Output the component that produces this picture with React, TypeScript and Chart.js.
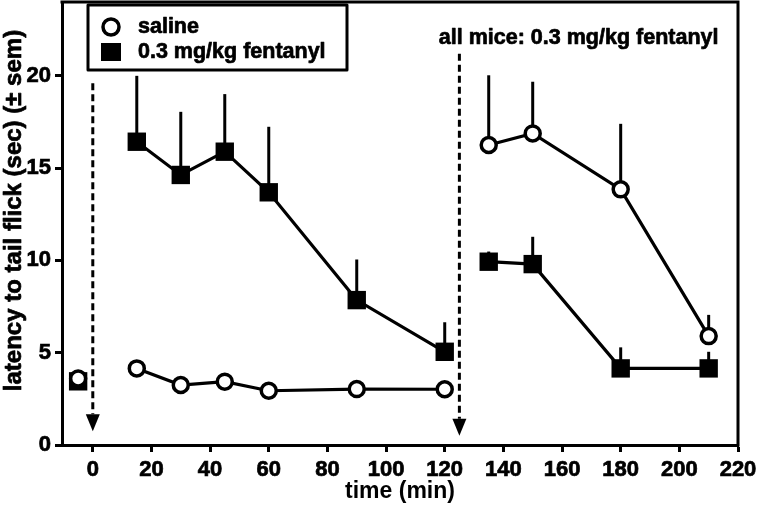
import { useEffect, useRef } from 'react';
import { Chart, registerables } from 'chart.js';

Chart.register(...registerables);

// ---- data ----
const times = [-5, 15, 30, 45, 60, 90, 120, 135, 150, 180, 210];
const segmentId = [0, 1, 1, 1, 1, 1, 1, 2, 2, 2, 2];
const salineMean = [3.6, 4.15, 3.25, 3.43, 2.94, 3.03, 3.02, 16.25, 16.88, 13.85, 5.9];
const salineSem = [0.3, 0.3, 0.2, 0.25, 0.2, 0.2, 0.2, 3.78, 2.8, 3.55, 1.15];
const fentanylMean = [3.45, 16.43, 14.63, 15.89, 13.69, 7.85, 5.05, 9.93, 9.8, 4.15, 4.15];
const fentanylSem = [0.3, 3.57, 3.42, 3.12, 3.55, 2.2, 1.6, 0.55, 1.48, 1.14, 0.9];
const seriesLabels = ['saline', '0.3 mg/kg fentanyl'];
const xTicks = [0, 20, 40, 60, 80, 100, 120, 140, 160, 180, 200, 220];
const yTicks = [0, 5, 10, 15, 20];
const arrowX = [0, 125];
const arrowTop = [19.6, 21.2];
const arrowTip = [0.75, 0.5];
const annotationText = 'all mice: 0.3 mg/kg fentanyl';
const xTitle = 'time (min)';
const yTitle = 'latency to tail flick (sec) (± sem)';

const FONT = '"Liberation Sans", Arial, sans-serif';
const STROKE = 0.7;

function buildSeries(means: number[]) {
  const out: { x: number; y: number | null }[] = [];
  times.forEach((t, i) => {
    if (i > 0 && segmentId[i] !== segmentId[i - 1]) {
      out.push({ x: (times[i - 1] + t) / 2, y: null });
    }
    out.push({ x: t, y: means[i] });
  });
  return out;
}

function boldText(ctx: CanvasRenderingContext2D, text: string, x: number, y: number) {
  ctx.lineWidth = STROKE;
  ctx.lineJoin = 'round';
  ctx.strokeStyle = '#000';
  ctx.strokeText(text, x, y);
  ctx.fillText(text, x, y);
}

const decorPlugin = {
  id: 'decor',
  beforeDatasetsDraw(chart: any) {
    const { ctx, scales } = chart;
    const xs = scales.x;
    const ys = scales.y;
    ctx.save();
    ctx.strokeStyle = '#000';
    ctx.lineWidth = 3;
    ctx.lineCap = 'butt';
    const drawBars = (means: number[], sems: number[]) => {
      times.forEach((t, i) => {
        const px = xs.getPixelForValue(t);
        ctx.beginPath();
        ctx.moveTo(px, ys.getPixelForValue(means[i]));
        ctx.lineTo(px, ys.getPixelForValue(means[i] + sems[i]));
        ctx.stroke();
      });
    };
    drawBars(fentanylMean, fentanylSem);
    drawBars(salineMean, salineSem);
    ctx.restore();
  },
  afterDraw(chart: any) {
    const { ctx, scales, chartArea } = chart;
    const xs = scales.x;
    const ys = scales.y;
    ctx.save();
    // frame top & right
    ctx.strokeStyle = '#000';
    ctx.lineWidth = 3;
    ctx.beginPath();
    ctx.moveTo(chartArea.left - 1.5, chartArea.top);
    ctx.lineTo(chartArea.right, chartArea.top);
    ctx.lineTo(chartArea.right, chartArea.bottom + 1.5);
    ctx.stroke();

    // dashed arrows
    arrowX.forEach((ax, i) => {
      const px = xs.getPixelForValue(ax);
      const top = ys.getPixelForValue(arrowTop[i]);
      const tip = ys.getPixelForValue(arrowTip[i]);
      const headH = 17;
      const headW = 14;
      ctx.setLineDash([7, 4]);
      ctx.lineWidth = 3;
      ctx.beginPath();
      ctx.moveTo(px, top);
      ctx.lineTo(px, tip - headH);
      ctx.stroke();
      ctx.setLineDash([]);
      ctx.fillStyle = '#000';
      ctx.beginPath();
      ctx.moveTo(px - headW / 2, tip - headH);
      ctx.lineTo(px + headW / 2, tip - headH);
      ctx.lineTo(px, tip);
      ctx.closePath();
      ctx.fill();
    });

    // annotation
    ctx.fillStyle = '#000';
    ctx.font = `bold 21.5px ${FONT}`;
    ctx.textAlign = 'left';
    ctx.textBaseline = 'alphabetic';
    boldText(ctx, annotationText, xs.getPixelForValue(118), ys.getPixelForValue(21.75));

    // legend
    const lx = chartArea.left + 26;
    const ly = chartArea.top + 3;
    ctx.lineWidth = 3;
    ctx.strokeStyle = '#000';
    ctx.strokeRect(lx, ly, 259, 65);
    const row1 = ly + 22;
    const row2 = ly + 47;
    ctx.beginPath();
    ctx.arc(lx + 23, row1, 8, 0, Math.PI * 2);
    ctx.fillStyle = '#fff';
    ctx.fill();
    ctx.lineWidth = 3.5;
    ctx.stroke();
    ctx.fillStyle = '#000';
    ctx.fillRect(lx + 23 - 10, row2 - 9, 20, 18);
    ctx.font = `bold 21.5px ${FONT}`;
    ctx.textBaseline = 'middle';
    boldText(ctx, seriesLabels[0], lx + 50, row1);
    boldText(ctx, seriesLabels[1], lx + 50, row2);

    // y title
    ctx.translate(14, (chartArea.top + chartArea.bottom) / 2 - 13);
    ctx.rotate(-Math.PI / 2);
    ctx.font = `bold 24px ${FONT}`;
    ctx.textAlign = 'center';
    ctx.textBaseline = 'middle';
    ctx.fillStyle = '#000';
    boldText(ctx, yTitle, 0, 0);
    ctx.restore();
  },
};

export default function App() {
  const ref = useRef<HTMLCanvasElement | null>(null);
  useEffect(() => {
    document.body.style.margin = '0';
    const canvas = ref.current;
    if (!canvas) return;
    const chart = new Chart(canvas, {
      type: 'line',
      data: {
        datasets: [
          {
            label: seriesLabels[0],
            data: buildSeries(salineMean) as any,
            borderColor: '#000',
            borderWidth: 3.2,
            pointStyle: 'circle',
            pointRadius: 7.5,
            pointHoverRadius: 7.5,
            pointBorderWidth: 3.5,
            pointBackgroundColor: '#fff',
            pointBorderColor: '#000',
            fill: false,
            tension: 0,
            spanGaps: false,
            clip: false,
          },
          {
            label: seriesLabels[1],
            data: buildSeries(fentanylMean) as any,
            borderColor: '#000',
            borderWidth: 3.2,
            pointStyle: 'rect',
            pointRadius: 13,
            pointHoverRadius: 13,
            pointBorderWidth: 0,
            pointBackgroundColor: '#000',
            pointBorderColor: '#000',
            fill: false,
            tension: 0,
            spanGaps: false,
            clip: false,
          },
        ],
      },
      options: {
        responsive: false,
        animation: false,
        devicePixelRatio: 1,
        layout: { autoPadding: false, padding: { top: 2, right: 20, left: 0, bottom: 0 } },
        plugins: {
          legend: { display: false },
          tooltip: { enabled: false },
        },
        events: [],
        scales: {
          x: {
            type: 'linear',
            min: -10.5,
            max: 220,
            afterBuildTicks: (s: any) => {
              s.ticks = xTicks.map((v) => ({ value: v }));
            },
            afterFit: (s: any) => {
              s.height = 60;
              s.paddingLeft = 0;
              s.paddingRight = 0;
            },
            border: { display: true, color: '#000', width: 3 },
            grid: {
              display: true,
              drawOnChartArea: false,
              drawTicks: true,
              tickLength: 7,
              tickWidth: 3,
              tickColor: '#000',
            },
            ticks: {
              color: '#000',
              font: { family: FONT, size: 22, weight: 'bold' },
              padding: 5,
              maxRotation: 0,
              autoSkip: false,
              textStrokeColor: '#000',
              textStrokeWidth: STROKE,
            },
            title: {
              display: true,
              text: xTitle,
              color: '#000',
              font: { family: FONT, size: 23, weight: 'bold' },
              padding: { top: 1.2, bottom: 0 },
            },
          },
          y: {
            type: 'linear',
            min: 0,
            max: 24,
            afterBuildTicks: (s: any) => {
              s.ticks = yTicks.map((v) => ({ value: v }));
            },
            afterFit: (s: any) => {
              s.width = 62;
              s.paddingTop = 0;
              s.paddingBottom = 0;
            },
            border: { display: true, color: '#000', width: 3 },
            grid: {
              display: true,
              drawOnChartArea: false,
              drawTicks: true,
              tickLength: 7,
              tickWidth: 3,
              tickColor: '#000',
            },
            ticks: {
              color: '#000',
              font: { family: FONT, size: 22, weight: 'bold' },
              padding: 4,
              autoSkip: false,
              textStrokeColor: '#000',
              textStrokeWidth: STROKE,
            },
            title: { display: false },
          },
        },
      },
      plugins: [decorPlugin],
    } as any);
    return () => chart.destroy();
  }, []);
  return (
    <div style={{ position: 'absolute', left: 0, top: 0, width: 758, height: 505, background: '#fff' }}>
      <canvas ref={ref} width={758} height={505} style={{ display: 'block' }} />
    </div>
  );
}
